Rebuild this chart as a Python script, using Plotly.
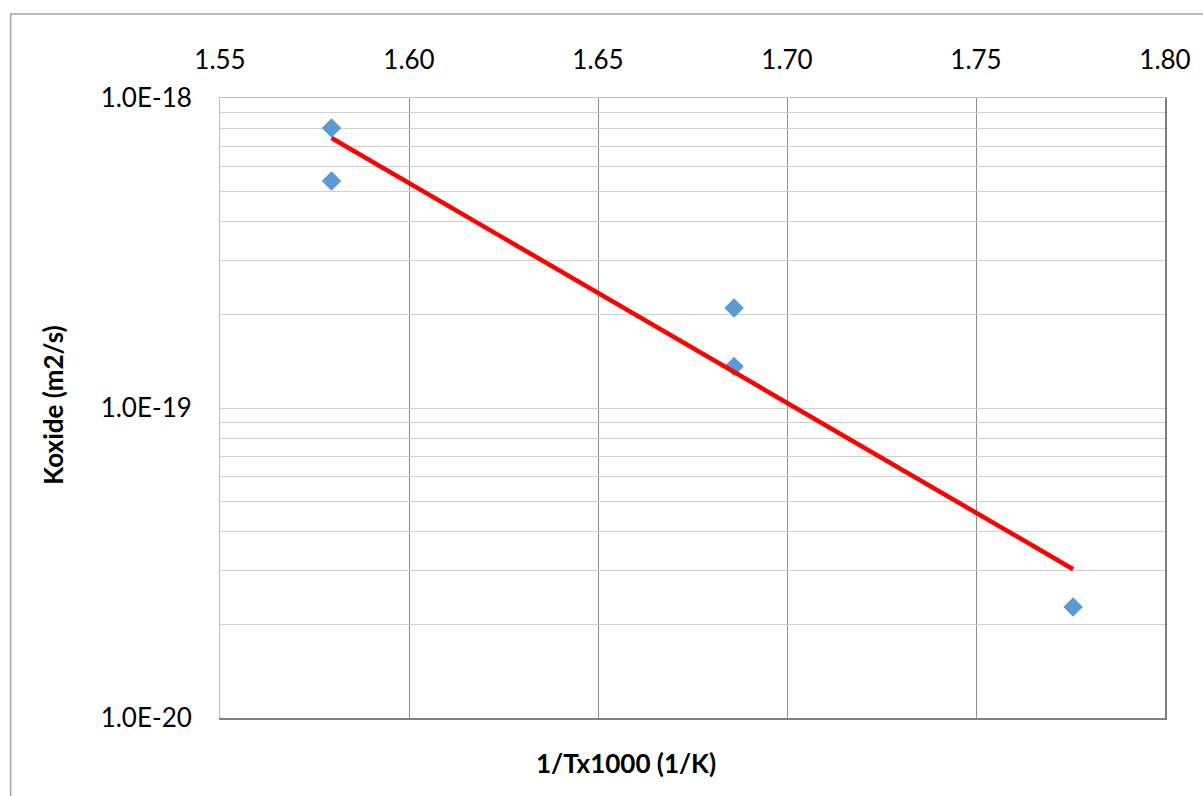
import plotly.graph_objects as go

# Data
inv_T = [1.5795, 1.5795, 1.686, 1.686, 1.7757]          # 1/T x 1000 (1/K)
k_oxide = [8.0e-19, 5.4e-19, 2.1e-19, 1.36e-19, 2.28e-20]  # Koxide (m2/s)

# Exponential trend line (end points)
fit_x = [1.5795, 1.7757]
fit_k = [7.43e-19, 3.02e-20]

x_ticks = [1.55, 1.60, 1.65, 1.70, 1.75, 1.80]
x_ticktext = ["1.55", "1.60", "1.65", "1.70", "1.75", "1.80"]
y_major = [1e-20, 1e-19, 1e-18]
y_major_text = ["1.0E-20", "1.0E-19", "1.0E-18"]

FONT = "Lato, Open Sans, sans-serif"

# tick values (major + minor gridlines)
y_vals, y_text = [], []
for dec in [1e-20, 1e-19]:
    for m in range(1, 10):
        v = m * dec
        y_vals.append(v)
        y_text.append(y_major_text[y_major.index(dec)] if m == 1 else "")
y_vals.append(1e-18)
y_text.append("1.0E-18")

fig = go.Figure()
fig.add_trace(go.Scatter(
    x=inv_T, y=k_oxide, mode="markers",
    marker=dict(symbol="diamond", size=15, color="#5B9BD5"),
    showlegend=False,
))
fig.add_trace(go.Scatter(
    x=fit_x, y=fit_k, mode="lines",
    line=dict(color="#FF0000", width=4.5),
    showlegend=False,
))

fig.update_layout(
    width=1203, height=796,
    paper_bgcolor="white", plot_bgcolor="white",
    margin=dict(l=220, r=26, t=98, b=78),
    font=dict(family=FONT, color="#000000"),
    xaxis=dict(
        side="top", range=[1.55, 1.80],
        tickvals=x_ticks, ticktext=x_ticktext,
        tickfont=dict(size=26, color="#000000"),
        showgrid=True, gridcolor="#8c8c8c", gridwidth=1,
        showline=True, linecolor="#bfbfbf", linewidth=1,
        ticks="outside", ticklen=0, ticklabelstandoff=18,
        zeroline=False,
    ),
    xaxis2=dict(
        overlaying="x", side="bottom", range=[1.55, 1.80], matches="x",
        showline=True, linecolor="#7f7f7f", linewidth=1.5,
        showticklabels=False, showgrid=False, zeroline=False,
    ),
    yaxis=dict(
        type="log", range=[-20, -18],
        tickvals=y_vals, ticktext=y_text,
        tickfont=dict(size=26, color="#000000"),
        showgrid=True, gridcolor="#cfcfcf", gridwidth=1,
        showline=True, linecolor="#bfbfbf", linewidth=1,
        ticks="outside", ticklen=0, ticklabelstandoff=22,
        zeroline=False,
    ),
    yaxis2=dict(
        overlaying="y", side="right", type="log", range=[-20, -18],
        showline=True, linecolor="#7f7f7f", linewidth=1.5,
        showticklabels=False, showgrid=False, zeroline=False,
    ),
)

# Ghost trace to activate overlay axes
fig.add_trace(go.Scatter(x=[None], y=[None], xaxis="x2", yaxis="y2",
                         showlegend=False, hoverinfo="skip"))

fig.add_annotation(
    text="<b>1/Tx1000 (1/K)</b>", xref="paper", yref="paper",
    x=0.4295, y=-0.0726, xanchor="center", yanchor="middle",
    showarrow=False, font=dict(size=26, family=FONT, color="#000000"),
)
fig.add_annotation(
    text="<b>Koxide (m2/s)</b>", xref="paper", yref="paper",
    x=-0.177, y=0.505, xanchor="center", yanchor="middle", textangle=-90,
    showarrow=False, font=dict(size=26, family=FONT, color="#000000"),
)

# Outer chart border
fig.add_shape(type="rect", xref="paper", yref="paper",
              x0=-0.2215, x1=1.2, y0=-0.3, y1=1.1355,
              line=dict(color="#a6a6a6", width=1.5), layer="below")

fig.write_html(
    "out.html",
    config={"displayModeBar": False},
    post_script="document.body.style.margin='0';document.body.style.overflow='hidden';",
)
